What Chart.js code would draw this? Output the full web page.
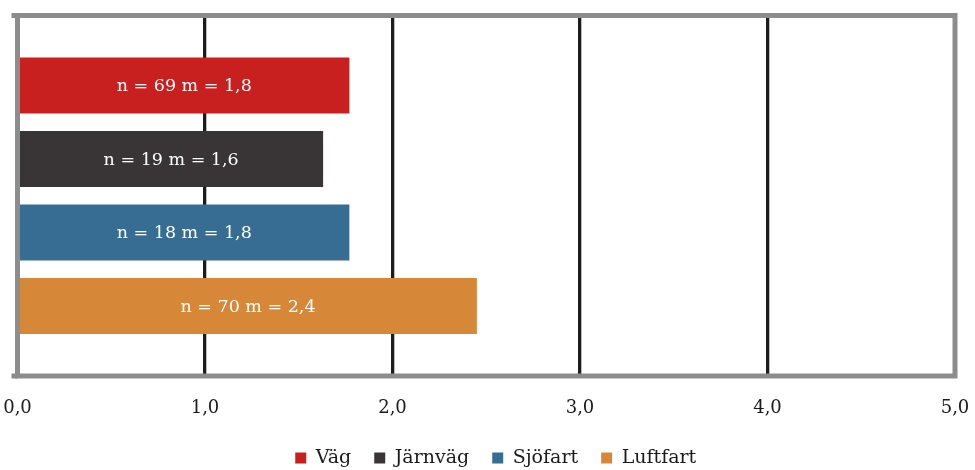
<!DOCTYPE html>
<html>
<head>
<meta charset="utf-8">
<script src="https://cdn.jsdelivr.net/npm/chart.js@4.4.1/dist/chart.umd.min.js"></script>
<style>
  html, body { margin: 0; padding: 0; background: #fff; }
  #wrap { width: 975px; height: 470px; }
</style>
</head>
<body>
<div id="wrap"><canvas id="chart" width="975" height="470"></canvas></div>
<script>
const categories = ["Väg", "Järnväg", "Sjöfart", "Luftfart"];
const values = [1.77, 1.63, 1.77, 2.45];
const counts = [69, 19, 18, 70];
const means = ["1,8", "1,6", "1,8", "2,4"];
const colors = ["#c8201f", "#393435", "#376d92", "#d68838"];
const tickLabels = ["0,0", "1,0", "2,0", "3,0", "4,0", "5,0"];

const serif = "'DejaVu Serif', serif";

// white "n = .. m = .." text in the middle of each bar
const barText = {
  id: "barText",
  afterDatasetsDraw(chart) {
    const ctx = chart.ctx;
    ctx.save();
    ctx.fillStyle = "#ffffff";
    ctx.font = "17.5px " + serif;
    ctx.textAlign = "center";
    ctx.textBaseline = "middle";
    chart.data.datasets.forEach((ds, i) => {
      const bar = chart.getDatasetMeta(i).data[0];
      const x = (bar.base + bar.x) / 2;
      ctx.fillText("n = " + counts[i] + " m = " + means[i], x, bar.y + 1);
    });
    ctx.restore();
  }
};

// grey frame round the plot area
const frame = {
  id: "frame",
  afterDatasetsDraw(chart) {
    const a = chart.chartArea;
    const ctx = chart.ctx;
    ctx.save();
    ctx.strokeStyle = "#8c8c8c";
    ctx.lineWidth = 5;
    ctx.strokeRect(a.left, a.top, a.right - a.left, a.bottom - a.top);
    ctx.beginPath();
    ctx.moveTo(a.left - 6, a.top);
    ctx.lineTo(a.left, a.top);
    ctx.moveTo(a.left - 6, a.bottom);
    ctx.lineTo(a.left, a.bottom);
    ctx.stroke();
    ctx.restore();
  }
};

// legend sits a bit right of the plot middle
const legendShift = {
  id: "legendShift",
  afterLayout(chart) {
    chart.legend.left += 9.5;
    chart.legend.right += 9.5;
  }
};

function renderChart() {
  const ctx = document.getElementById("chart").getContext("2d");
  new Chart(ctx, {
    type: "bar",
    data: {
      labels: [""],
      datasets: categories.map((c, i) => ({
        label: c,
        data: [values[i]],
        backgroundColor: colors[i],
        borderWidth: 0,
        categoryPercentage: 0.8155,
        barPercentage: 0.762
      }))
    },
    options: {
      indexAxis: "y",
      responsive: false,
      animation: false,
      layout: { padding: { top: 15.5, right: 20, left: 17.5, bottom: 0 } },
      scales: {
        x: {
          min: 0,
          max: 5,
          afterFit: (scale) => {
            scale.height = 49.5;
            scale.paddingLeft = 0;
            scale.paddingRight = 0;
          },
          ticks: {
            stepSize: 1,
            padding: 22,
            color: "#1a1a1a",
            font: { family: serif, size: 18 },
            callback: (v, i) => tickLabels[i]
          },
          grid: {
            drawTicks: false,
            lineWidth: 3.3,
            color: (c) => (c.tick && c.tick.value > 0 && c.tick.value < 5) ? "#1c1c1c" : "rgba(0,0,0,0)"
          },
          border: { display: false }
        },
        y: {
          display: false
        }
      },
      plugins: {
        tooltip: { enabled: false },
        legend: {
          position: "bottom",
          maxHeight: 44.5,
          labels: {
            boxWidth: 11,
            boxHeight: 11,
            padding: 23,
            color: "#1a1a1a",
            font: { family: serif, size: 19 }
          }
        }
      }
    },
    plugins: [barText, frame, legendShift]
  });
}

window.onload = renderChart;
</script>
</body>
</html>
